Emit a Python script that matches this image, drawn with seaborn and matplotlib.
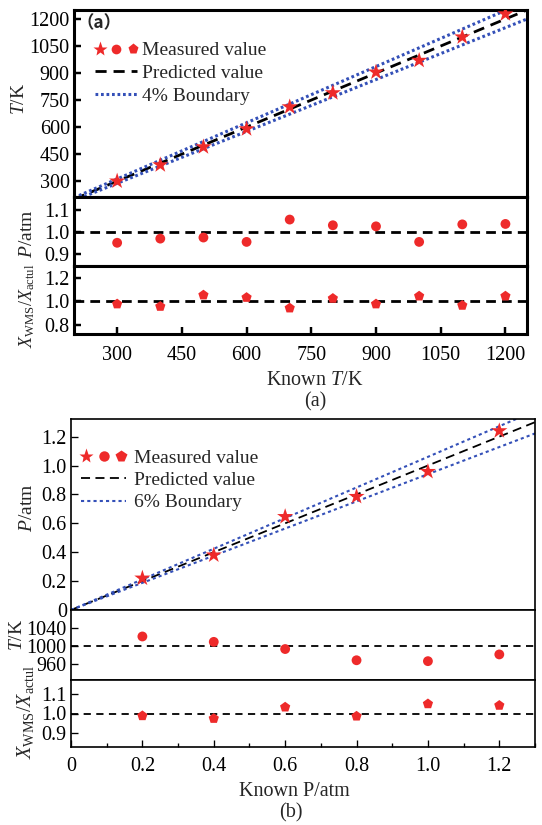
import matplotlib
matplotlib.use("Agg")
import matplotlib.pyplot as plt
import seaborn as sns
from matplotlib.lines import Line2D
from matplotlib.legend_handler import HandlerTuple
from matplotlib.ticker import FixedLocator, MultipleLocator, FormatStrFormatter

# ---- panel (a): temperature scan ----
t_known = [300, 400, 500, 600, 700, 800, 900, 1000, 1100, 1200]
t_measured = [300, 390, 490, 590, 712, 790, 905, 970, 1100, 1228]
p_ratio_a = [0.949, 0.968, 0.973, 0.953, 1.055, 1.029, 1.024, 0.953, 1.033, 1.035]
x_ratio_a = [0.978, 0.957, 1.055, 1.034, 0.943, 1.026, 0.978, 1.046, 0.966, 1.046]
t_ticks = [300, 450, 600, 750, 900, 1050, 1200]
t_range = [200, 1250]
boundary_a = 0.04

# ---- panel (b): pressure scan ----
p_known = [0.2, 0.4, 0.6, 0.8, 1.0, 1.2]
p_measured = [0.22, 0.38, 0.646, 0.785, 0.958, 1.24]
t_ratio_b = [1021, 1009, 993, 968, 966, 981]
x_ratio_b = [0.988, 0.974, 1.033, 0.986, 1.050, 1.042]
p_ticks = [0, 0.2, 0.4, 0.6, 0.8, 1.0, 1.2]
p_tick_labels = ["0", "0.2", "0.4", "0.6", "0.8", "1.0", "1.2"]
p_range = [0, 1.3]
boundary_b = 0.06

sns.set_theme(style="ticks")
plt.rcParams["font.family"] = ["Liberation Serif", "Noto Sans CJK SC", "DejaVu Sans"]
plt.rcParams["mathtext.fontset"] = "custom"
plt.rcParams["mathtext.rm"] = "Liberation Serif"
plt.rcParams["mathtext.it"] = "Liberation Serif:italic"
plt.rcParams["mathtext.bf"] = "Liberation Serif:bold"

RED = "#ee2a2a"
BLUE = "#3450b8"
W, H = 542, 825

fig = plt.figure(figsize=(W / 100, H / 100), dpi=100)
fig.patch.set_facecolor("white")


def px_axes(left, top, right, bottom):
    return fig.add_axes([left / W, 1 - bottom / H, (right - left) / W, (bottom - top) / H])


def style_axes(ax, lw, fs, show_x):
    for sp in ax.spines.values():
        sp.set_linewidth(lw)
        sp.set_color("black")
    ax.tick_params(axis="both", which="both", direction="in", width=lw * 0.8,
                   labelsize=fs, colors="black", pad=3)
    ax.tick_params(axis="both", which="major", length=5)
    ax.tick_params(axis="both", which="minor", length=3)
    if not show_x:
        ax.tick_params(axis="x", which="both", bottom=False, labelbottom=False)
    ax.set_xlabel("")
    ax.set_ylabel("")
    ax.grid(False)


def draw_reference(ax, xr, frac, lw_pred, lw_bnd, pred_dash, bnd_dash):
    sns.lineplot(x=xr, y=xr, ax=ax, color="black", lw=lw_pred,
                 linestyle=(0, pred_dash), zorder=2)
    sns.lineplot(x=xr, y=[v * (1 + frac) for v in xr], ax=ax, color=BLUE,
                 lw=lw_bnd, linestyle=(0, bnd_dash), zorder=2)
    sns.lineplot(x=xr, y=[v * (1 - frac) for v in xr], ax=ax, color=BLUE,
                 lw=lw_bnd, linestyle=(0, bnd_dash), zorder=2)


def draw_unity(ax, xr, value, lw, dash):
    sns.lineplot(x=xr, y=[value, value], ax=ax, color="black", lw=lw,
                 linestyle=(0, dash), zorder=2)


# ================= (a) =================
a_l, a_r = 74, 527
ax1 = px_axes(a_l, 10, a_r, 197)
ax2 = px_axes(a_l, 197, a_r, 266)
ax3 = px_axes(a_l, 266, a_r, 334)

draw_reference(ax1, t_range, boundary_a, 2.0, 2.2, (4, 2.5), (0.9, 0.9))
sns.scatterplot(x=t_known, y=t_measured, ax=ax1, marker="*", s=150,
                color=RED, edgecolor="none", zorder=3)
ax1.set_ylim(212, 1250)
ax1.yaxis.set_major_locator(FixedLocator(t_ticks))

draw_unity(ax2, t_range, 1.0, 2.0, (3.5, 2.2))
sns.scatterplot(x=t_known, y=p_ratio_a, ax=ax2, marker="o", s=50,
                color=RED, edgecolor="none", zorder=3)
ax2.set_ylim(0.843, 1.158)
ax2.yaxis.set_major_locator(FixedLocator([0.9, 1.0, 1.1]))

draw_unity(ax3, t_range, 1.0, 2.0, (3.5, 2.2))
sns.scatterplot(x=t_known, y=x_ratio_a, ax=ax3, marker="p", s=60,
                color=RED, edgecolor="none", zorder=3)
ax3.set_ylim(0.72, 1.305)
ax3.yaxis.set_major_locator(FixedLocator([0.8, 1.0, 1.2]))

for ax, show in ((ax1, False), (ax2, False), (ax3, True)):
    ax.set_xlim(t_range)
    ax.xaxis.set_major_locator(FixedLocator(t_ticks))
    style_axes(ax, 2.2, 14.5, show)
ax2.yaxis.set_major_formatter(FormatStrFormatter("%.1f"))
ax3.yaxis.set_major_formatter(FormatStrFormatter("%.1f"))
ax3.tick_params(axis="x", pad=9)

ax1.text(0.005, 0.93, "（a）", transform=ax1.transAxes, fontsize=12.5,
         fontweight="bold", ha="left", va="center",
         family=["Noto Sans CJK SC", "Liberation Serif"])

meas_a = (Line2D([], [], ls="none", marker="*", ms=11, color=RED, mec="none"),
          Line2D([], [], ls="none", marker="o", ms=7, color=RED, mec="none"),
          Line2D([], [], ls="none", marker="p", ms=8, color=RED, mec="none"))
pred_a = Line2D([], [], color="black", lw=2.0, ls=(0, (4, 2.5)))
bnd_a = Line2D([], [], color=BLUE, lw=2.2, ls=(0, (0.9, 0.9)))
ax1.legend([meas_a, pred_a, bnd_a], ["Measured value", "Predicted value", "4% Boundary"],
           handler_map={tuple: HandlerTuple(ndivide=None, pad=0.4)},
           loc="upper left", bbox_to_anchor=(0.047, 0.83), frameon=False,
           fontsize=14, handlelength=2.15, handletextpad=0.25, labelspacing=0.27,
           borderpad=0, borderaxespad=0)

fig.text(19 / W, 1 - 99 / H, r"$T$/K", rotation=90, ha="center", va="center", fontsize=14)
fig.text(28 / W, 1 - 234 / H, r"$P$/atm", rotation=90, ha="center", va="center", fontsize=14)
fig.text(27 / W, 1 - 306 / H, r"$X_{\rm WMS}/X_{\rm actul}$", rotation=90,
         ha="center", va="center", fontsize=13)
fig.text(315 / W, 1 - 380 / H, r"Known $T$/K", ha="center", va="center", fontsize=14.5)
fig.text(315 / W, 1 - 402 / H, "(a)", ha="center", va="center", fontsize=14.5)

# ================= (b) =================
b_l, b_r = 71, 535
bx1 = px_axes(b_l, 419, b_r, 610)
bx2 = px_axes(b_l, 610, b_r, 680)
bx3 = px_axes(b_l, 680, b_r, 747)

draw_reference(bx1, p_range, boundary_b, 1.3, 1.5, (5, 3), (1.5, 1.5))
sns.scatterplot(x=p_known, y=p_measured, ax=bx1, marker="*", s=150,
                color=RED, edgecolor="none", zorder=3)
bx1.set_ylim(0, 1.322)
bx1.yaxis.set_major_locator(FixedLocator(p_ticks))
bx1.set_yticklabels(p_tick_labels)

draw_unity(bx2, p_range, 1000, 1.3, (4, 3))
sns.scatterplot(x=p_known, y=t_ratio_b, ax=bx2, marker="o", s=50,
                color=RED, edgecolor="none", zorder=3)
bx2.set_ylim(924, 1080)
bx2.yaxis.set_major_locator(FixedLocator([960, 1000, 1040]))

draw_unity(bx3, p_range, 1.0, 1.3, (4, 3))
sns.scatterplot(x=p_known, y=x_ratio_b, ax=bx3, marker="p", s=60,
                color=RED, edgecolor="none", zorder=3)
bx3.set_ylim(0.826, 1.174)
bx3.yaxis.set_major_locator(FixedLocator([0.9, 1.0, 1.1]))

for ax, show in ((bx1, False), (bx2, False), (bx3, True)):
    ax.set_xlim(p_range)
    ax.xaxis.set_major_locator(FixedLocator(p_ticks))
    style_axes(ax, 1.2, 14.5, show)
bx3.set_xticklabels(p_tick_labels)
bx3.xaxis.set_minor_locator(MultipleLocator(0.1))
bx3.tick_params(axis="x", pad=7)
bx3.yaxis.set_major_formatter(FormatStrFormatter("%.1f"))

meas_b = (Line2D([], [], ls="none", marker="*", ms=11, color=RED, mec="none"),
          Line2D([], [], ls="none", marker="o", ms=7.5, color=RED, mec="none"),
          Line2D([], [], ls="none", marker="p", ms=8.5, color=RED, mec="none"))
pred_b = Line2D([], [], color="black", lw=1.3, ls=(0, (5, 3)))
bnd_b = Line2D([], [], color=BLUE, lw=1.5, ls=(0, (1.5, 1.5)))
bx1.legend([meas_b, pred_b, bnd_b], ["Measured value", "Predicted value", "6% Boundary"],
           handler_map={tuple: HandlerTuple(ndivide=None, pad=0.4)},
           loc="upper left", bbox_to_anchor=(0.022, 0.84), frameon=False,
           fontsize=14, handlelength=2.3, handletextpad=0.4, labelspacing=0.23,
           borderpad=0, borderaxespad=0)

fig.text(27 / W, 1 - 508 / H, r"$P$/atm", rotation=90, ha="center", va="center", fontsize=14)
fig.text(18 / W, 1 - 635 / H, r"$T$/K", rotation=90, ha="center", va="center", fontsize=14)
fig.text(26 / W, 1 - 712 / H, r"$X_{\rm WMS}/X_{\rm actul}$", rotation=90,
         ha="center", va="center", fontsize=14.5)
fig.text(294 / W, 1 - 792 / H, "Known P/atm", ha="center", va="center", fontsize=14.5)
fig.text(291 / W, 1 - 813 / H, "(b)", ha="center", va="center", fontsize=14.5)

fig.savefig("out.png", dpi=100, facecolor="white")
